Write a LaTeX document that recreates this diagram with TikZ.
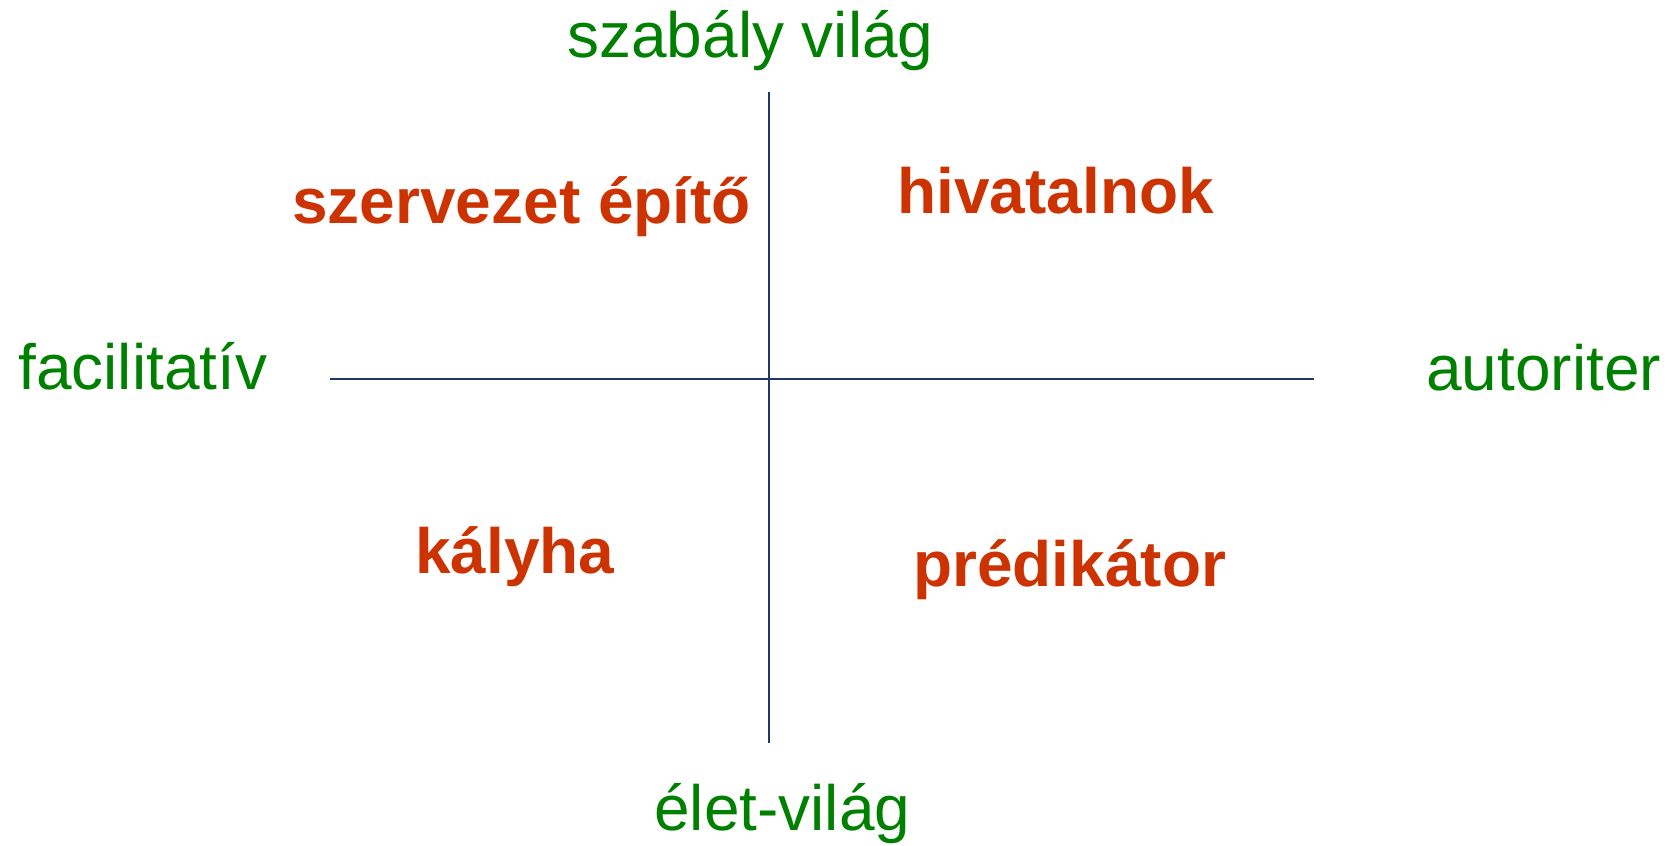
\documentclass[tikz,border=0pt]{standalone}
\usepackage{fontspec}
\setmainfont{Liberation Sans}
\usepackage{tikz}
\definecolor{axisgreen}{RGB}{0,128,0}
\definecolor{rolered}{RGB}{204,51,0}
\definecolor{axisblue}{RGB}{31,56,100}
\tikzset{
	axislabel/.style={anchor=base west, inner sep=0pt, text=axisgreen, font=\fontsize{36.4}{40}\selectfont},
	rolelabel/.style={anchor=base west, inner sep=0pt, text=rolered, font=\fontsize{36.4}{40}\selectfont\bfseries},
	axisline/.style={draw=axisblue, line width=1.2pt}
}

\begin{document}
\begin{tikzpicture}
			\useasboundingbox (0,0) rectangle (33.5,16.92);
			%coordinates
			\coordinate (top)    at (15.38,15.08);
			\coordinate (bottom) at (15.38,2.06);
			\coordinate (left)   at (6.6,9.34);
			\coordinate (right)  at (26.28,9.34);
			
			%nodes
			\node[axislabel] (rule)  at (11.34,15.76) {szabály világ};
			\node[axislabel] (life)  at (13.08,0.30)  {élet-világ};
			\node[axislabel] (facil) at (0.36,9.12)   {facilitatív};
			\node[axislabel] (auth)  at (28.52,9.10)  {autoriter};
			
			\node[rolelabel] (builder)  at (5.84,12.44)  {szervezet építő};
			\node[rolelabel] (clerk)    at (17.94,12.64) {hivatalnok};
			\node[rolelabel] (stove)    at (8.30,5.44)   {kályha};
			\node[rolelabel] (preacher) at (18.26,5.18)  {prédikátor};
			
			\draw[axisline] (top) -- (bottom);
			\draw[axisline] (left) -- (right);
\end{tikzpicture}
\end{document}
